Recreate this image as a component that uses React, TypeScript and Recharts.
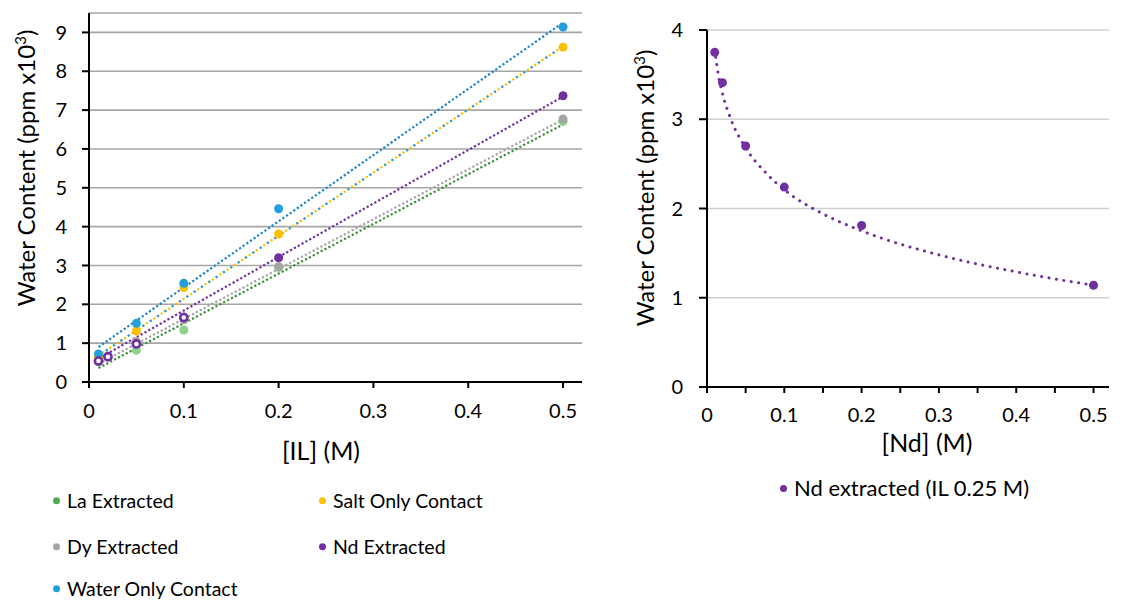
import React from 'react';
import { ComposedChart, Line, Scatter, XAxis, YAxis, CartesianGrid } from 'recharts';

// ---------- Left chart data ----------
const ilConc = [0.01, 0.05, 0.1, 0.2, 0.5];
const ilConcNd = [0.01, 0.02, 0.05, 0.1, 0.2, 0.5];
const laValues = [0.52, 0.82, 1.34, 2.95, 6.71];
const dyValues = [0.55, 1.04, 1.6, 2.97, 6.77];
const ndValues = [0.54, 0.65, 0.98, 1.66, 3.2, 7.37];
const saltValues = [0.65, 1.31, 2.43, 3.81, 8.62];
const waterValues = [0.72, 1.51, 2.54, 4.46, 9.14];

// trendline end points (at x = 0.01 and x = 0.5)
const trendX = [0.01, 0.5];
const laTrend = [0.36, 6.63];
const dyTrend = [0.47, 6.76];
const ndTrend = [0.6, 7.35];
const saltTrend = [0.68, 8.64];
const waterTrend = [0.9, 9.25];

const leftXTicks = [0, 0.1, 0.2, 0.3, 0.4, 0.5];
const leftYTicks = [0, 1, 2, 3, 4, 5, 6, 7, 8, 9];

// ---------- Right chart data ----------
const ndConc = [0.01, 0.02, 0.05, 0.1, 0.2, 0.5];
const ndWater = [3.75, 3.41, 2.7, 2.24, 1.81, 1.14];
// trend curve
const curveX = [0.01, 0.015, 0.02, 0.03, 0.05, 0.075, 0.1, 0.15, 0.2, 0.3, 0.4, 0.5];
const curveY = [3.78, 3.48, 3.29, 3.02, 2.68, 2.41, 2.21, 1.94, 1.75, 1.48, 1.29, 1.14];
const rightXTicks = [0, 0.05, 0.1, 0.15, 0.2, 0.25, 0.3, 0.35, 0.4, 0.45, 0.5];
const rightYTicks = [0, 1, 2, 3, 4];

const zip = (xs: number[], ys: number[]) => xs.map((x, i) => ({ x, y: ys[i] }));

const C = {
  waterM: '#22a0dc',
  waterT: '#1a86cf',
  salt: '#ffc000',
  nd: '#7030a0',
  dy: '#a5a5a5',
  laM: '#8ed18c',
  laT: '#3c8f3c',
  laLeg: '#4cae4c',
};

const FONT = 'Lato, "Open Sans", sans-serif';
const tickStyle = { fontSize: 20, fill: '#000', fontFamily: FONT };

const dot = (color: string, r = 4.5) => (p: any) =>
  p.cx == null ? <g /> : <circle cx={p.cx} cy={p.cy} r={r} fill={color} />;

const ndShape = (p: any) => {
  if (p.cx == null) return <g />;
  const x = p.payload ? p.payload.x : 1;
  if (x <= 0.1) {
    return <circle cx={p.cx} cy={p.cy} r={3.6} fill="#ffffff" stroke={C.nd} strokeWidth={2.6} />;
  }
  return <circle cx={p.cx} cy={p.cy} r={4.5} fill={C.nd} />;
};

const LegendItem = ({ x, y, color, label, size = 19.5 }: any) => (
  <div style={{ position: 'absolute', left: x, top: y, transform: 'translateY(-50%)', display: 'flex', alignItems: 'center', fontFamily: FONT, fontSize: size, lineHeight: 1.1, whiteSpace: 'nowrap', color: '#000' }}>
    <span style={{ display: 'inline-block', width: 7, height: 7, borderRadius: '50%', background: color, marginRight: 7 }} />
    {label}
  </div>
);

const YTitle = ({ x, y }: any) => (
  <div style={{ position: 'absolute', left: x, top: y, transform: 'translate(-50%,-50%) rotate(-90deg)', fontFamily: FONT, fontSize: 24, whiteSpace: 'nowrap', color: '#000' }}>
    Water Content (ppm x10<span style={{ fontSize: 15, verticalAlign: 'super' }}>3</span>)
  </div>
);

const XTitle = ({ x, y, text }: any) => (
  <div style={{ position: 'absolute', left: x, top: y, transform: 'translate(-50%,-50%)', fontFamily: FONT, fontSize: 25, lineHeight: 1.1, whiteSpace: 'nowrap', color: '#000' }}>
    {text}
  </div>
);

const trendProps = {
  type: 'linear' as const,
  dataKey: 'y',
  dot: false,
  activeDot: false,
  isAnimationActive: false,
  strokeWidth: 2.2,
  strokeDasharray: '2.2 2.2',
};

export default function App() {
  return (
    <div style={{ position: 'absolute', left: 0, top: 0, width: 1123, height: 602, background: '#fff', overflow: 'hidden' }}>
      {/* Left chart */}
      <div style={{ position: 'absolute', left: 0, top: 0 }}>
        <ComposedChart width={600} height={430} margin={{ top: 13, right: 18, left: 0, bottom: 8 }}>
          <CartesianGrid vertical={false} stroke="#a6a6a6" strokeWidth={1.6} />
          <XAxis
            type="number"
            dataKey="x"
            domain={[0, 0.52]}
            ticks={leftXTicks}
            height={40}
            allowDataOverflow
            axisLine={{ stroke: '#000', strokeWidth: 2 }}
            tickLine={{ stroke: '#000', strokeWidth: 2 }}
            tickSize={6}
            tickMargin={16}
            tick={tickStyle}
            tickFormatter={(v: number) => String(v)}
          />
          <YAxis
            type="number"
            dataKey="y"
            domain={[0, 9.5]}
            ticks={leftYTicks}
            width={89}
            allowDataOverflow
            axisLine={{ stroke: '#000', strokeWidth: 2 }}
            tickLine={{ stroke: '#000', strokeWidth: 2 }}
            tickSize={7}
            tickMargin={15}
            tick={tickStyle}
          />
          <Line {...trendProps} data={zip(trendX, laTrend)} stroke={C.laT} />
          <Line {...trendProps} data={zip(trendX, dyTrend)} stroke={C.dy} />
          <Line {...trendProps} data={zip(trendX, ndTrend)} stroke={C.nd} />
          <Line {...trendProps} data={zip(trendX, saltTrend)} stroke={C.salt} />
          <Line {...trendProps} data={zip(trendX, saltTrend)} stroke={C.waterM} strokeDasharray="2.2 6.6" />
          <Line {...trendProps} data={zip(trendX, waterTrend)} stroke={C.waterT} />
          <Scatter data={zip(ilConc, laValues)} dataKey="y" isAnimationActive={false} shape={dot(C.laM)} />
          <Scatter data={zip(ilConc, dyValues)} dataKey="y" isAnimationActive={false} shape={dot(C.dy)} />
          <Scatter data={zip(ilConc, saltValues)} dataKey="y" isAnimationActive={false} shape={dot(C.salt)} />
          <Scatter data={zip(ilConc, waterValues)} dataKey="y" isAnimationActive={false} shape={dot(C.waterM)} />
          <Scatter data={zip(ilConcNd, ndValues)} dataKey="y" isAnimationActive={false} shape={ndShape} />
        </ComposedChart>
      </div>
      <YTitle x={25} y={168} />
      <XTitle x={321} y={451} text="[IL] (M)" />
      <LegendItem x={53} y={501} color={C.laLeg} label="La Extracted" />
      <LegendItem x={319} y={501} color={C.salt} label="Salt Only Contact" />
      <LegendItem x={53} y={547} color={C.dy} label="Dy Extracted" />
      <LegendItem x={319} y={547} color={C.nd} label="Nd Extracted" />
      <LegendItem x={53} y={589} color={C.waterM} label="Water Only Contact" />

      {/* Right chart */}
      <div style={{ position: 'absolute', left: 600, top: 0 }}>
        <ComposedChart width={523} height={440} margin={{ top: 30, right: 14, left: 0, bottom: 13 }}>
          <CartesianGrid vertical={false} stroke="#d0d0d0" strokeWidth={1.6} />
          <XAxis
            type="number"
            dataKey="x"
            domain={[0, 0.52]}
            ticks={rightXTicks}
            height={40}
            allowDataOverflow
            axisLine={{ stroke: '#000', strokeWidth: 2 }}
            tickLine={{ stroke: '#000', strokeWidth: 2 }}
            tickSize={6}
            tickMargin={15}
            tick={tickStyle}
            tickFormatter={(v: number) => (Math.round(v * 100) % 10 === 0 ? String(v) : '')}
          />
          <YAxis
            type="number"
            dataKey="y"
            domain={[0, 4]}
            ticks={rightYTicks}
            width={107}
            allowDataOverflow
            axisLine={{ stroke: '#000', strokeWidth: 2 }}
            tickLine={{ stroke: '#000', strokeWidth: 2 }}
            tickSize={8}
            tickMargin={16}
            tick={tickStyle}
          />
          <Line
            type="monotone"
            data={zip(curveX, curveY)}
            dataKey="y"
            dot={false}
            activeDot={false}
            isAnimationActive={false}
            stroke={C.nd}
            strokeWidth={3}
            strokeLinecap="round"
            strokeDasharray="0.1 7.4"
          />
          <Scatter data={zip(ndConc, ndWater)} dataKey="y" isAnimationActive={false} shape={dot(C.nd, 4.5)} />
        </ComposedChart>
      </div>
      <YTitle x={644} y={188} />
      <XTitle x={927} y={443} text="[Nd] (M)" />
      <LegendItem x={780} y={488} color={C.nd} label="Nd extracted (IL 0.25 M)" size={22} />
    </div>
  );
}
